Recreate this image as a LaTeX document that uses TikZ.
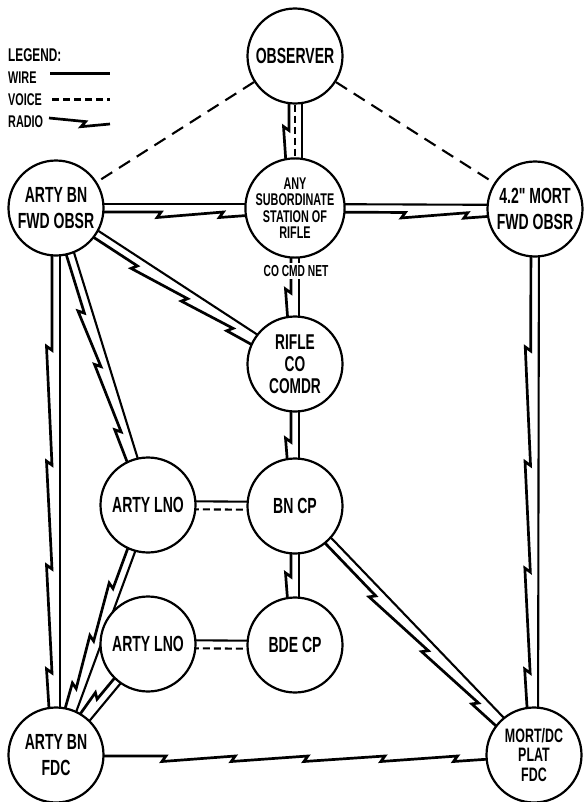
\documentclass[tikz,border=0pt]{standalone}
\usepackage{fontspec}
\newfontfamily\diagfont[FakeStretch=0.64]{Liberation Sans}
\usetikzlibrary{calc,backgrounds}

\newcommand\stationfont[2]{\diagfont\bfseries\fontsize{#1}{#2}\selectfont}

% wire and voice: offset on the left of a->b, radio: offset on the right
\newcommand\wireline[3]{\draw[wire] ($(#1)!#3!90:(#2)$) -- ($(#2)!#3!-90:(#1)$);}
\newcommand\voiceline[3]{\draw[voice] ($(#1)!#3!90:(#2)$) -- ($(#2)!#3!-90:(#1)$);}
\newcommand\radioline[4]{%
  \draw[radio] ($(#1)!#3!-90:(#2)$)
    \foreach \kp in {#4} {
      -- ($(#1)!\kp!(#2)!#3!-90:(#2)$)
      -- ($(#1)!\kp!(#2)!-4bp!(#2)!{#3+5.5bp}!-90:(#2)$)
    }
    -- ($(#2)!#3!90:(#1)$);
}

\tikzset{
  station/.style={circle, draw, line width=2.2bp, fill=white, minimum size=95bp,
    inner sep=0pt, align=center, font=\stationfont{22}{26}},
  smallstation/.style={station, font=\stationfont{17}{16.5}},
  wire/.style={line width=2.1bp},
  voice/.style={line width=2.1bp, dash pattern=on 7bp off 4bp},
  voicelong/.style={line width=2.1bp, dash pattern=on 13bp off 8bp},
  radio/.style={line width=2.7bp},
  legendtext/.style={anchor=west, inner sep=0pt, font=\stationfont{17}{18}},
  nettag/.style={fill=white, inner sep=2bp, font=\stationfont{16}{16}}
}

\begin{document}
\begin{tikzpicture}[x=1bp, y=-1bp]
  \useasboundingbox (0,0) rectangle (584,802);

  % legend
  \node[legendtext, font=\stationfont{18.5}{20}] (legend) at (8,55) {LEGEND:};
  \node[legendtext] (lgwire) at (8,77.5) {WIRE};
  \node[legendtext] (lgvoice) at (8,100) {VOICE};
  \node[legendtext] (lgradio) at (8,122) {RADIO};
  \coordinate (wireA) at (50,73.5);
  \coordinate (wireB) at (110,73.5);
  \coordinate (voiceA) at (52,99.5);
  \coordinate (voiceB) at (110,99.5);
  \coordinate (radioA) at (49,118);
  \coordinate (radioB) at (110,124);
  \draw[wire] (wireA) -- (wireB);
  \draw[voice] (voiceA) -- (voiceB);
  \radioline{radioA}{radioB}{0bp}{0.6}

  % stations
  \node[station] (observer) at (295,56) {OBSERVER};
  \node[smallstation] (anysub) at (295,208) {ANY\\SUBORDINATE\\STATION OF\\RIFLE};
  \node[station] (bnfwd) at (56,208) {ARTY BN\\FWD OBSR};
  \node[station] (mortfwd) at (535,209) {4.2" MORT\\FWD OBSR};
  \node[station, font=\stationfont{21.5}{22}] (rifleco) at (295,364) {RIFLE\\CO\\COMDR};
  \node[station] (lnoA) at (148,505) {ARTY LNO};
  \node[station] (bncp) at (295,506) {BN CP};
  \node[station] (lnoB) at (148,644) {ARTY LNO};
  \node[station] (bdecp) at (295,645) {BDE CP};
  \node[station] (bnfdc) at (56,755) {ARTY BN\\FDC};
  \node[station, font=\stationfont{19.5}{20}] (mortfdc) at (534,755) {MORT/DC\\PLAT\\FDC};

  \node[nettag] (cmdnet) at (296,271) {CO CMD NET};

  \begin{scope}[on background layer]
    \draw[voicelong] (observer) -- (bnfwd);
    \draw[voicelong] (observer) -- (mortfwd);
    \radioline{observer}{anysub}{6bp}{0.49}
    \draw[voice] (observer) -- (anysub);
    \wireline{observer}{anysub}{7bp}

    \wireline{bnfwd}{anysub}{4bp}
    \radioline{bnfwd}{anysub}{4bp}{0.44,0.70}
    \wireline{anysub}{mortfwd}{4bp}
    \radioline{anysub}{mortfwd}{4bp}{0.46,0.72}
    \wireline{anysub}{rifleco}{4bp}
    \radioline{anysub}{rifleco}{4bp}{0.545}
    \wireline{bnfwd}{rifleco}{4bp}
    \radioline{bnfwd}{rifleco}{4bp}{0.35,0.56,0.75}
    \wireline{bnfwd}{lnoA}{4bp}
    \radioline{bnfwd}{lnoA}{4bp}{0.35,0.53,0.75}
    \wireline{bnfwd}{bnfdc}{4bp}
    \radioline{bnfwd}{bnfdc}{4bp}{0.26,0.47,0.66,0.85}
    \wireline{rifleco}{bncp}{4bp}
    \radioline{rifleco}{bncp}{4bp}{0.55}
    \wireline{bncp}{bdecp}{4bp}
    \radioline{bncp}{bdecp}{4bp}{0.51}
    \wireline{bncp}{mortfdc}{4bp}
    \radioline{bncp}{mortfdc}{4bp}{0.35,0.57,0.78}
    \wireline{mortfwd}{mortfdc}{4bp}
    \radioline{mortfwd}{mortfdc}{4bp}{0.26,0.47,0.665,0.85}
    \wireline{lnoA}{bnfdc}{4bp}
    \radioline{lnoA}{bnfdc}{4bp}{0.34,0.55,0.74}
    \wireline{lnoB}{bnfdc}{4bp}
    \radioline{lnoB}{bnfdc}{4bp}{0.52}
    \wireline{lnoA}{bncp}{4bp}
    \voiceline{lnoA}{bncp}{-4bp}
    \wireline{lnoB}{bdecp}{4bp}
    \voiceline{lnoB}{bdecp}{-4bp}
    \radioline{bnfdc}{mortfdc}{1bp}{0.23,0.375,0.527,0.688,0.84}
  \end{scope}
\end{tikzpicture}
\end{document}
